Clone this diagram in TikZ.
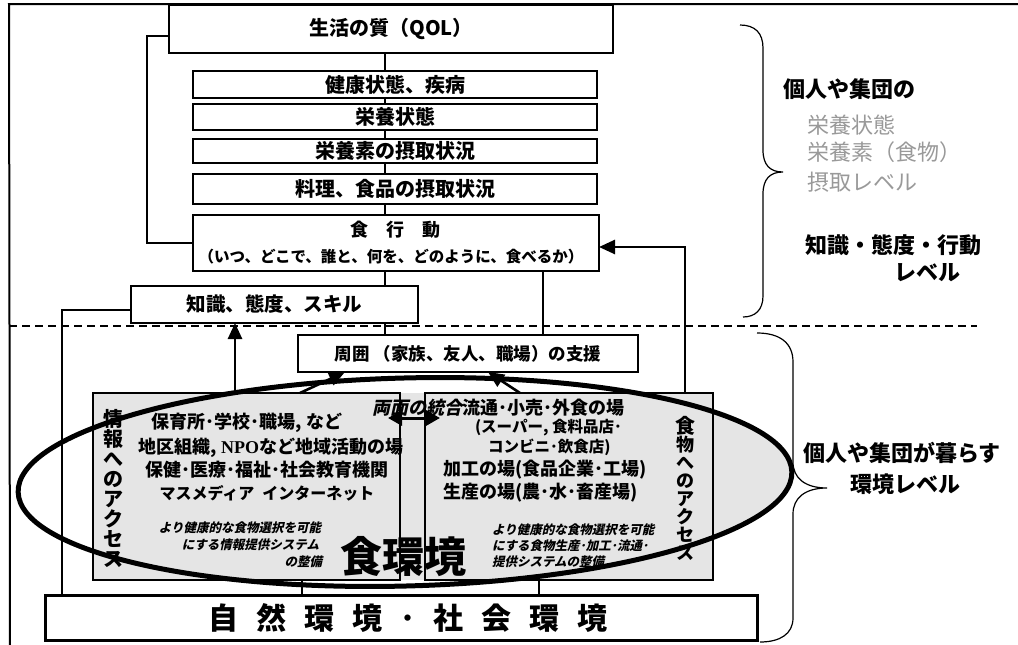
\documentclass[tikz,border=0pt]{standalone}
\usepackage{fontspec}
\usetikzlibrary{arrows.meta}
\newfontfamily\jp{Noto Sans CJK JP}
\newfontfamily\jpi{Noto Sans CJK JP}[FakeSlant=0.22]
\newfontfamily\npo{Liberation Serif}
\newcommand{\fsz}[1]{\fontsize{#1pt}{#1pt}\selectfont}
\begin{document}
\begin{tikzpicture}[x=1pt,y=-1pt,
 box/.style={draw,line width=1.8pt,fill=white,inner sep=0pt,outer sep=0pt,font=\jp\bfseries\fsz{20}},
 frm/.style={draw,line width=2pt,inner sep=0pt,outer sep=0pt},
 conn/.style={line width=2pt},
 arr/.style={line width=2.6pt,-{Triangle[length=16pt,width=14pt]}},
 darr/.style={line width=3pt,{Triangle[length=14pt,width=15pt]}-{Triangle[length=14pt,width=15pt]}},
 txt/.style={inner sep=0pt,outer sep=0pt,font=\jp\bfseries\fsz{18}},
 itx/.style={inner sep=0pt,outer sep=0pt,font=\jpi\bfseries\fsz{12.5}},
 side/.style={inner sep=0pt,outer sep=0pt,font=\jp\bfseries\fsz{22}},
 pale/.style={inner sep=0pt,outer sep=0pt,font=\jp\fsz{22},text=black!40},
 brc/.style={line width=1.2pt},
 gfill/.style={fill=black!10}
]
\useasboundingbox (0,0) rectangle (1018,645);

% outer frame and level divider
\draw[line width=2pt] (10,645) -- (9,4) -- (1018,4);
\coordinate (fl) at (9,326);
\coordinate (fr) at (977,326);
\draw[line width=1.5pt,dash pattern=on 8pt off 5pt] (fl) -- (fr);

% stippled food-environment area
\fill[gfill] (93,393) rectangle (713,580);
\begin{scope}
 \clip (713,360) rectangle (810,600);
 \fill[gfill,rotate around={1.5:(405,482)}] (405,482) ellipse [x radius=387pt,y radius=104pt];
\end{scope}

% upper chain of boxes
\node[box,minimum width=444pt,minimum height=48pt] (qol) at (391,29) {生活の質（QOL）};
\node[box,minimum width=404pt,minimum height=27pt] (b1) at (395,84.5) {健康状態、疾病};
\node[box,minimum width=404pt,minimum height=26pt] (b2) at (395,117) {栄養状態};
\node[box,minimum width=404pt,minimum height=24pt] (b3) at (395,151) {栄養素の摂取状況};
\node[box,minimum width=404pt,minimum height=30pt] (b4) at (395,189) {料理、食品の摂取状況};
\node[box,minimum width=406pt,minimum height=56pt] (act) at (396,243) {};
\node[txt,font=\jp\bfseries\fsz{18}] (act1) at (395,230) {食　行　動};
\node[txt,font=\jp\bfseries\fsz{15.5}] (act2) at (391,257) {（いつ、どこで、誰と、何を、どのように、食べるか）};
\node[box,minimum width=287pt,minimum height=37pt,font=\jp\bfseries\fsz{19.5}] (know) at (274.5,304.5) {知識、態度、スキル};
\node[box,minimum width=340pt,minimum height=37pt,font=\jp\bfseries\fsz{17.5}] (supp) at (468,353.5) {周囲 （家族、友人、職場）の支援};

% environment boxes
\node[frm,minimum width=307pt,minimum height=187pt] (lbox) at (246.5,486.5) {};
\node[frm,minimum width=288pt,minimum height=187pt] (rbox) at (569,486.5) {};
\node[frm,line width=3pt,fill=white,minimum width=712pt,minimum height=45pt] (env) at (401,617.5) {};
\node[txt,font=\jp\bfseries\fsz{30}] (envt) at (407.5,618) {自\hspace{18pt}然\hspace{18pt}環\hspace{18pt}境\hspace{18pt}･\hspace{18pt}社\hspace{18pt}会\hspace{18pt}環\hspace{18pt}境};

% connector x positions
\coordinate (cx) at (385,0);
\coordinate (lpx) at (147,0);
\coordinate (sx) at (543,0);
\coordinate (rx) at (685,0);
\coordinate (kx) at (62,0);
\coordinate (ax) at (235,0);
\coordinate (d1) at (300,0);
\coordinate (d2) at (345,0);
\coordinate (d3) at (520,0);
\coordinate (d4) at (488,0);
\coordinate (ex1) at (302,0);
\coordinate (ex2) at (539,0);
\coordinate (da1) at (388,418);
\coordinate (da2) at (440,418);

\draw[conn] (qol.south -| cx) -- (b1.north -| cx);
\draw[conn] (b1.south -| cx) -- (b2.north -| cx);
\draw[conn] (b2.south -| cx) -- (b3.north -| cx);
\draw[conn] (b3.south -| cx) -- (b4.north -| cx);
\draw[conn] (b4.south -| cx) -- (act.north -| cx);
\draw[conn] (act.south -| cx) -- (know.north -| cx);
\draw[conn] (know.south -| cx) -- (supp.north -| cx);
\draw[conn] ([yshift=-7pt]qol.west) -| (lpx |- act.west) -- (act.west);
\draw[conn] (supp.north -| sx) -- (act.south -| sx);
\draw[conn] ([yshift=-5.5pt]know.west) -| (env.north -| kx);
\draw[conn] (lbox.south -| ex1) -- (env.north -| ex1);
\draw[conn] (rbox.south -| ex2) -- (env.north -| ex2);

% texts in the left box
\node[txt,font=\jp\bfseries\fsz{20},align=center] (vl) at (113,488.5) {\fontsize{20pt}{22pt}\selectfont 情\\報\\へ\\の\\ア\\ク\\セ\\ス};
\node[txt] (l1) at (247,423) {保育所･学校･職場, など};
\node[txt] (l2) at (271,448) {地区組織, {\npo\bfseries NPO}など地域活動の場};
\node[txt] (l3) at (266.5,470) {保健･医療･福祉･社会教育機関};
\node[txt,font=\jp\bfseries\fsz{16}] (l4) at (267,493) {マスメディア\hspace{8pt}インターネット};
\node[itx,anchor=east] (li1) at (321,528) {より健康的な食物選択を可能};
\node[itx,anchor=east] (li2) at (319,545) {にする情報提供システム};
\node[itx,anchor=east] (li3) at (322,562) {の整備};

% texts in the right box
\node[txt,font=\jpi\bfseries\fsz{18},anchor=west] (both) at (372,408) {両面の統合};
\node[txt,anchor=west] (r1) at (462,408) {流通･小売･外食の場};
\node[txt,font=\jp\bfseries\fsz{15.5},anchor=west] (r2) at (475,428) {(スーパー, 食料品店･};
\node[txt,font=\jp\bfseries\fsz{15.5},anchor=west] (r3) at (488,447) {コンビニ･飲食店)};
\node[txt,anchor=west] (r4) at (443,470) {加工の場(食品企業･工場)};
\node[txt,anchor=west] (r5) at (443,493) {生産の場(農･水･畜産場)};
\node[itx,anchor=west] (ri1) at (492,530) {より健康的な食物選択を可能};
\node[itx,anchor=west] (ri2) at (492,546) {にする食物生産･加工･流通･};
\node[itx,anchor=west] (ri3) at (492,562) {提供システムの整備};
\node[txt,align=center] (vr) at (685,488.5) {\fontsize{20pt}{22.4pt}\selectfont 食\\物\\へ\\の\\ア\\ク\\セ\\ス};
\node[txt,font=\jp\bfseries\fsz{42}] (fenv) at (403,557) {食環境};

% the food-environment ellipse
\draw[line width=5pt,rotate around={1.5:(405,482)}] (405,482) ellipse [x radius=387pt,y radius=104pt];

% arrows
\draw[arr] (rbox.north -| rx) |- ([yshift=-4pt]act.east);
\draw[arr] (lbox.north -| ax) -- (know.south -| ax);
\draw[arr] (lbox.north -| d1) -- (supp.south -| d2);
\draw[arr] (rbox.north -| d3) -- (supp.south -| d4);
\draw[darr] (da1) -- (da2);

% braces
\draw[brc] (740,25) .. controls (755,25) and (763,33) .. (763,48) -- (763,150)
  .. controls (763,165) and (770,172) .. (783,172)
  .. controls (770,172) and (763,179) .. (763,194) -- (763,296)
  .. controls (763,310) and (755,317) .. (743,317);
\draw[brc] (757,333) .. controls (780,333) and (793,343) .. (793,362) -- (793,462)
  .. controls (793,478) and (805,488) .. (827,488)
  .. controls (805,488) and (793,498) .. (793,514) -- (793,618)
  .. controls (793,634) and (780,642) .. (760,642);

% level labels
\node[side,anchor=west] (s1) at (783,89) {個人や集団の};
\node[pale,anchor=west] (s2) at (807,125) {栄養状態};
\node[pale,anchor=west] (s3) at (807,152) {栄養素（食物）};
\node[pale,anchor=west] (s4) at (807,182) {摂取レベル};
\node[side,anchor=west] (s5) at (805,245) {知識・態度・行動};
\node[side] (s6) at (927,273) {レベル};
\node[side,anchor=west] (s7) at (803,453) {個人や集団が暮らす};
\node[side] (s8) at (905,484) {環境レベル};
\end{tikzpicture}
\end{document}
